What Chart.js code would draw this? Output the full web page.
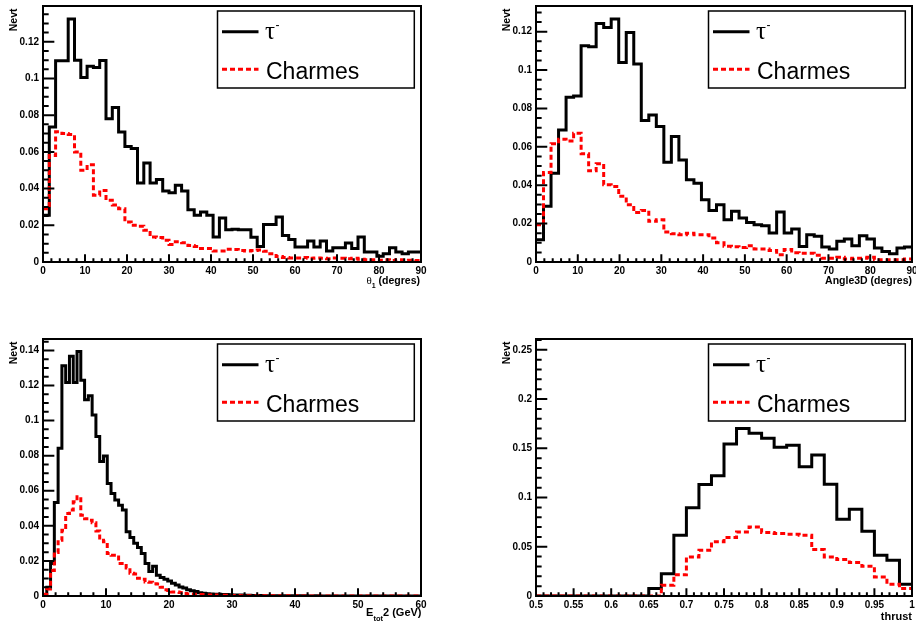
<!DOCTYPE html>
<html>
<head>
<meta charset="utf-8">
<title>Nevt</title>
<script src="https://cdn.jsdelivr.net/npm/chart.js@4.4.1/dist/chart.umd.min.js"></script>
<style>
  html, body { margin: 0; padding: 0; background: #fff; }
  #page { position: relative; width: 916px; height: 626px; overflow: hidden; background: #fff; }
  canvas { position: absolute; }
</style>
</head>
<body>
<div id="page">
  <canvas id="c1" width="458" height="313" style="left:0;top:0"></canvas>
  <canvas id="c2" width="458" height="313" style="left:458px;top:0"></canvas>
  <canvas id="c3" width="458" height="313" style="left:0;top:313px"></canvas>
  <canvas id="c4" width="458" height="313" style="left:458px;top:313px"></canvas>
</div>
<script>
// theta1 : 60 bins, 0 -> 90 degres
const theta1Tau = [
  0.0255, 0.0736, 0.1096, 0.1096, 0.1324, 0.1100, 0.1005, 0.1067, 0.1060, 0.1098,
  0.0780, 0.0842, 0.0709, 0.0630, 0.0618, 0.0430, 0.0540, 0.0430, 0.0450, 0.0387,
  0.0378, 0.0418, 0.0387, 0.0285, 0.0255, 0.0273, 0.0255, 0.0136, 0.0240, 0.0176,
  0.0178, 0.0176, 0.0176, 0.0135, 0.0085, 0.0205, 0.0205, 0.0245, 0.0145, 0.0122,
  0.0082, 0.0082, 0.0115, 0.0082, 0.0115, 0.0060, 0.0078, 0.0078, 0.0104, 0.0073,
  0.0136, 0.0055, 0.0055, 0.0031, 0.0045, 0.0078, 0.0055, 0.0045, 0.0055, 0.0055
];
const theta1Charm = [
  0.0290, 0.0580, 0.0710, 0.0700, 0.0695, 0.0600, 0.0500, 0.0530, 0.0364, 0.0390,
  0.0336, 0.0310, 0.0290, 0.0218, 0.0200, 0.0195, 0.0173, 0.0136, 0.0133, 0.0118,
  0.0095, 0.0110, 0.0105, 0.0090, 0.0085, 0.0073, 0.0073, 0.0060, 0.0060, 0.0070,
  0.0068, 0.0062, 0.0060, 0.0062, 0.0065, 0.0058, 0.0045, 0.0030, 0.0025, 0.0022,
  0.0022, 0.0025, 0.0020, 0.0022, 0.0020, 0.0018, 0.0022, 0.0020, 0.0018, 0.0020,
  0.0015, 0.0012, 0.0012, 0.0010, 0.0012, 0.0008, 0.0012, 0.0008, 0.0010, 0.0008
];

// Angle3D : 50 bins, 0 -> 90 degres
const angleTau = [
  0.0116, 0.0290, 0.0463, 0.0688, 0.0858, 0.0865, 0.1127, 0.1122, 0.1243, 0.1222,
  0.1266, 0.1039, 0.1196, 0.1032, 0.0737, 0.0766, 0.0706, 0.0520, 0.0654, 0.0532,
  0.0428, 0.0410, 0.0324, 0.0269, 0.0298, 0.0220, 0.0264, 0.0229, 0.0206, 0.0194,
  0.0189, 0.0151, 0.0260, 0.0151, 0.0172, 0.0081, 0.0142, 0.0134, 0.0078, 0.0068,
  0.0108, 0.0120, 0.0085, 0.0137, 0.0120, 0.0073, 0.0055, 0.0043, 0.0073, 0.0078
];
const angleCharm = [
  0.0194, 0.0466, 0.0616, 0.0640, 0.0630, 0.0671, 0.0564, 0.0475, 0.0512, 0.0402,
  0.0394, 0.0342, 0.0298, 0.0258, 0.0269, 0.0212, 0.0220, 0.0156, 0.0147, 0.0142,
  0.0150, 0.0142, 0.0142, 0.0125, 0.0100, 0.0082, 0.0080, 0.0075, 0.0085, 0.0068,
  0.0068, 0.0060, 0.0038, 0.0065, 0.0048, 0.0045, 0.0045, 0.0035, 0.0020, 0.0020,
  0.0025, 0.0015, 0.0020, 0.0020, 0.0025, 0.0012, 0.0012, 0.0012, 0.0012, 0.0015
];

// Etot2 : 100 bins, 0 -> 60 GeV
const etotTau = [
  0.0005, 0.0050, 0.0185, 0.0533, 0.0842, 0.1312, 0.1217, 0.1366, 0.1217, 0.1394,
  0.1230, 0.1118, 0.1141, 0.1032, 0.0909, 0.0766, 0.0798, 0.0642, 0.0585, 0.0547,
  0.0518, 0.0490, 0.0366, 0.0333, 0.0300, 0.0276, 0.0242, 0.0185, 0.0140, 0.0170,
  0.0118, 0.0105, 0.0095, 0.0085, 0.0072, 0.0062, 0.0052, 0.0045, 0.0035, 0.0030,
  0.0025, 0.0018, 0.0015, 0.0013, 0.0012, 0.0010, 0.0010, 0.0008, 0.0008, 0.0007,
  0.0006, 0.0005, 0.0005, 0.0004, 0.0004, 0.0003, 0.0003, 0.0003, 0.0002, 0.0002,
  0.0002, 0.0002, 0.0001, 0.0001, 0.0001, 0.0001, 0.0001, 0.0001, 0.0001, 0.0001,
  0, 0, 0.0001, 0, 0, 0, 0, 0, 0, 0,
  0, 0, 0, 0, 0, 0, 0, 0, 0, 0,
  0, 0, 0, 0, 0, 0, 0, 0, 0, 0
];
const etotCharm = [
  0.0010, 0.0040, 0.0145, 0.0248, 0.0318, 0.0375, 0.0470, 0.0490, 0.0537, 0.0566,
  0.0460, 0.0440, 0.0432, 0.0417, 0.0370, 0.0318, 0.0309, 0.0242, 0.0232, 0.0232,
  0.0185, 0.0185, 0.0160, 0.0130, 0.0125, 0.0101, 0.0095, 0.0080, 0.0078, 0.0070,
  0.0068, 0.0050, 0.0036, 0.0032, 0.0023, 0.0023, 0.0020, 0.0014, 0.0012, 0.0010,
  0.0010, 0.0008, 0.0008, 0.0006, 0.0006, 0.0005, 0.0005, 0.0004, 0.0004, 0.0003,
  0.0003, 0.0003, 0.0002, 0.0002, 0.0002, 0.0002, 0.0001, 0.0001, 0.0001, 0.0001,
  0.0001, 0.0001, 0.0001, 0, 0.0001, 0, 0, 0.0001, 0, 0,
  0, 0, 0, 0, 0, 0, 0, 0, 0, 0,
  0, 0, 0, 0, 0, 0, 0, 0, 0, 0,
  0, 0, 0, 0, 0, 0, 0, 0, 0, 0
];

// thrust : 30 bins, 0.5 -> 1
const thrustTau = [
  0, 0, 0, 0, 0, 0, 0, 0, 0, 0.0075,
  0.0227, 0.0617, 0.0896, 0.1133, 0.1221, 0.1543, 0.1700, 0.1652, 0.1601, 0.1510,
  0.1530, 0.1313, 0.1431, 0.1136, 0.0780, 0.0882, 0.0658, 0.0414, 0.0363, 0.0119
];
const thrustCharm = [
  0, 0, 0, 0, 0, 0, 0, 0, 0, 0,
  0.0109, 0.0215, 0.0397, 0.0465, 0.0550, 0.0594, 0.0651, 0.0702, 0.0645, 0.0634,
  0.0628, 0.0617, 0.0472, 0.0397, 0.0370, 0.0339, 0.0302, 0.0193, 0.0119, 0.0075
];

const degreTicks = [0, 10, 20, 30, 40, 50, 60, 70, 80, 90];
const gevTicks = [0, 10, 20, 30, 40, 50, 60];
const thrustTicks = [0.5, 0.55, 0.6, 0.65, 0.7, 0.75, 0.8, 0.85, 0.9, 0.95, 1];
const nevtTicks = [0, 0.02, 0.04, 0.06, 0.08, 0.1, 0.12];
const nevtTicksE = [0, 0.02, 0.04, 0.06, 0.08, 0.1, 0.12, 0.14];
const nevtTicksThrust = [0, 0.05, 0.1, 0.15, 0.2, 0.25];
const seriesNames = ['τ', 'Charmes'];

const panels = [
  { id: 'c1', tau: theta1Tau, charm: theta1Charm, xMin: 0, xMax: 90, xTicks: degreTicks, xMinor: 2, xSub: 5,
    yMax: 0.1395, yTicks: nevtTicks, yMinor: 0.005, ySub: 4,
    left: 43, top: 6, right: 37, bottom: 51, titleDy: 21.5, titleDx: -1,
    title: [{ t: 'θ', f: '11px "Liberation Serif"' }, { t: '1', f: 'bold 7px "Liberation Sans"', dy: 4.5 },
            { t: ' (degres)', f: 'bold 10.5px "Liberation Sans"' }] },
  { id: 'c2', tau: angleTau, charm: angleCharm, xMin: 0, xMax: 90, xTicks: degreTicks, xMinor: 2, xSub: 5,
    yMax: 0.1334, yTicks: nevtTicks, yMinor: 0.005, ySub: 4,
    left: 78, top: 6, right: 4, bottom: 51, titleDy: 21.8, titleDx: 0,
    title: [{ t: 'Angle3D (degres)', f: 'bold 10.5px "Liberation Sans"' }] },
  { id: 'c3', tau: etotTau, charm: etotCharm, xMin: 0, xMax: 60, xTicks: gevTicks, xMinor: 2, xSub: 5,
    yMax: 0.1465, yTicks: nevtTicksE, yMinor: 0.005, ySub: 4,
    left: 43, top: 26, right: 37, bottom: 30, titleDy: 19.5, titleDx: 0.5,
    title: [{ t: 'E', f: 'bold 11px "Liberation Sans"' }, { t: 'tot', f: 'bold 7.5px "Liberation Sans"', dy: 5 },
            { t: '2 (GeV)', f: 'bold 11px "Liberation Sans"' }] },
  { id: 'c4', tau: thrustTau, charm: thrustCharm, xMin: 0.5, xMax: 1, xTicks: thrustTicks, xMinor: 0.01, xSub: 5,
    yMax: 0.261, yTicks: nevtTicksThrust, yMinor: 0.01, ySub: 5,
    left: 78, top: 26, right: 4, bottom: 30, titleDy: 23.5, titleDx: 0,
    title: [{ t: 'thrust', f: 'bold 11px "Liberation Sans"' }] }
];

// bin i holds its value from its low edge to the next one
function histPoints(values, low, high) {
  const w = (high - low) / values.length;
  const pts = values.map((v, i) => ({ x: low + i * w, y: v }));
  pts.push({ x: high, y: values[values.length - 1] });
  return pts;
}

function drawRich(ctx, segs, rightX, baseY) {
  let total = 0;
  segs.forEach(s => { ctx.font = s.f; s.w = ctx.measureText(s.t).width; total += s.w; });
  let x = rightX - total;
  ctx.textAlign = 'left';
  ctx.textBaseline = 'alphabetic';
  segs.forEach(s => {
    ctx.font = s.f;
    ctx.fillText(s.t, x, baseY + (s.dy || 0));
    x += s.w;
  });
}

function rootDecor(p) {
  return {
    id: 'rootDecor',
    afterDatasetsDraw(chart) {
      const { ctx, chartArea: a, scales: { x, y } } = chart;
      ctx.save();
      ctx.strokeStyle = '#000';
      ctx.lineWidth = 2;
      ctx.strokeRect(a.left, a.top, a.right - a.left, a.bottom - a.top);
      const tx = 0.03 * (a.bottom - a.top);
      const ty = 0.03 * (a.right - a.left);
      ctx.beginPath();
      for (let i = 0; p.xMin + i * p.xMinor <= p.xMax + 1e-9; i++) {
        const px = x.getPixelForValue(p.xMin + i * p.xMinor);
        ctx.moveTo(px, a.bottom);
        ctx.lineTo(px, a.bottom - (i % p.xSub === 0 ? tx : tx / 2));
      }
      for (let i = 0; i * p.yMinor <= p.yMax + 1e-9; i++) {
        const py = y.getPixelForValue(i * p.yMinor);
        ctx.moveTo(a.left, py);
        ctx.lineTo(a.left + (i % p.ySub === 0 ? ty : ty / 2), py);
      }
      ctx.stroke();
      ctx.restore();
    },
    afterDraw(chart) {
      const { ctx, chartArea: a } = chart;
      ctx.save();
      ctx.fillStyle = '#000';

      // Nevt
      ctx.translate(a.left - 26.5, a.top + 2.5);
      ctx.rotate(-Math.PI / 2);
      ctx.font = 'bold 10.5px "Liberation Sans"';
      ctx.textAlign = 'right';
      ctx.textBaseline = 'alphabetic';
      ctx.fillText('Nevt', 0, 0);
      ctx.setTransform(1, 0, 0, 1, 0, 0);

      drawRich(ctx, p.title, a.right + p.titleDx, a.bottom + p.titleDy);

      // legend
      const bl = a.right - 203.5, br = a.right - 6.7, bt = a.top + 5, bb = a.top + 82;
      ctx.fillStyle = '#fff';
      ctx.fillRect(bl, bt, br - bl, bb - bt);
      ctx.strokeStyle = '#000';
      ctx.lineWidth = 1.5;
      ctx.strokeRect(bl, bt, br - bl, bb - bt);

      ctx.lineWidth = 3;
      ctx.beginPath();
      ctx.moveTo(bl + 4.5, bt + 20.7);
      ctx.lineTo(bl + 41, bt + 20.7);
      ctx.stroke();
      ctx.strokeStyle = '#ff0000';
      ctx.setLineDash([5, 3]);
      ctx.beginPath();
      ctx.moveTo(bl + 4.5, bt + 58.3);
      ctx.lineTo(bl + 41, bt + 58.3);
      ctx.stroke();
      ctx.setLineDash([]);

      ctx.fillStyle = '#000';
      ctx.textAlign = 'left';
      ctx.textBaseline = 'alphabetic';
      ctx.font = '25px "Liberation Serif"';
      ctx.fillText(seriesNames[0], bl + 47.5, bt + 28.3);
      const tw = ctx.measureText(seriesNames[0]).width;
      ctx.font = '12px "Liberation Sans"';
      ctx.fillText('-', bl + 47.5 + tw + 0.5, bt + 17.8);
      ctx.font = '23px "Liberation Sans"';
      ctx.fillText(seriesNames[1], bl + 48.5, bt + 68.3);
      ctx.restore();
    }
  };
}

function drawPanel(p) {
  const tickFont = { family: 'Liberation Sans', size: 10, weight: 'bold' };
  new Chart(document.getElementById(p.id), {
    type: 'line',
    data: {
      datasets: [
        {
          label: seriesNames[0],
          data: histPoints(p.tau, p.xMin, p.xMax),
          borderColor: '#000000',
          borderWidth: 3,
          stepped: 'before',
          pointRadius: 0,
          borderJoinStyle: 'miter',
          order: 2
        },
        {
          label: seriesNames[1],
          data: histPoints(p.charm, p.xMin, p.xMax),
          borderColor: '#ff0000',
          borderWidth: 3,
          borderDash: [5, 3],
          stepped: 'before',
          pointRadius: 0,
          borderJoinStyle: 'miter',
          order: 1
        }
      ]
    },
    options: {
      responsive: false,
      animation: false,
      devicePixelRatio: 1,
      layout: { padding: { top: p.top, right: p.right, left: 0, bottom: 0 } },
      plugins: { legend: { display: false }, tooltip: { enabled: false } },
      scales: {
        x: {
          type: 'linear',
          min: p.xMin,
          max: p.xMax,
          grid: { display: false, drawTicks: false },
          border: { display: false },
          afterBuildTicks: s => { s.ticks = p.xTicks.map(v => ({ value: v })); },
          afterFit: s => { s.height = p.bottom; s.paddingLeft = 0; s.paddingRight = 0; },
          ticks: { font: tickFont, color: '#000', padding: 3, maxRotation: 0, autoSkip: false,
                   callback: v => String(v) }
        },
        y: {
          type: 'linear',
          min: 0,
          max: p.yMax,
          grid: { display: false, drawTicks: false },
          border: { display: false },
          afterBuildTicks: s => { s.ticks = p.yTicks.map(v => ({ value: v })); },
          afterFit: s => { s.width = p.left; s.paddingTop = 0; s.paddingBottom = 0; },
          ticks: { font: tickFont, color: '#000', padding: 4, autoSkip: false,
                   callback: v => String(v) }
        }
      }
    },
    plugins: [rootDecor(p)]
  });
}

panels.forEach(drawPanel);
</script>
</body>
</html>
